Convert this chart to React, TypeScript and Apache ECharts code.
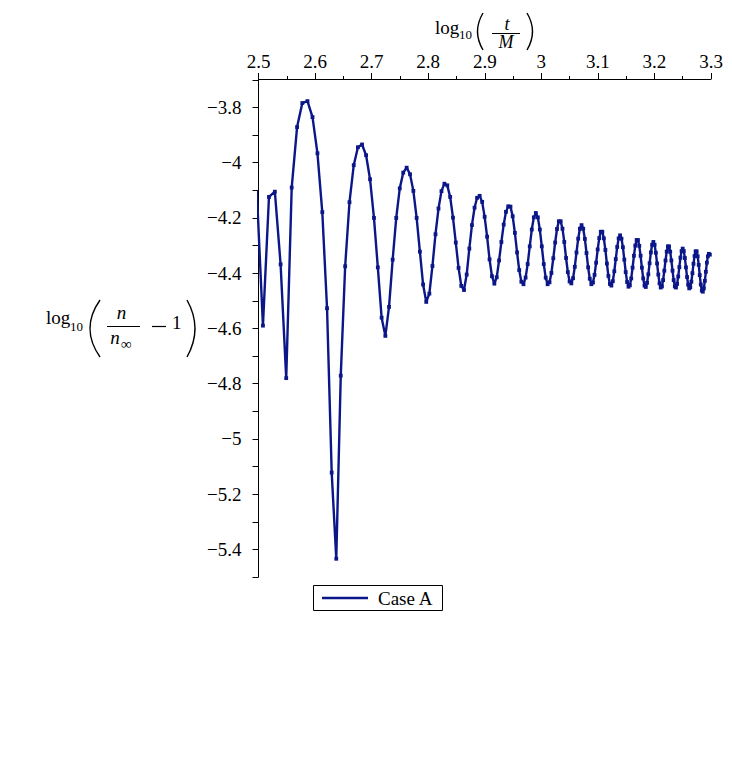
import React, { useEffect, useRef } from "react";
import * as echarts from "echarts";

// time samples t/M (plotted as log10(t/M))
const tValues = [
  314, 322, 330, 338, 346, 354, 362, 370, 378, 386,
  394, 402, 410, 418, 426, 434, 442, 450, 458, 466,
  474, 482, 490, 498, 506, 514, 522, 530, 538, 546,
  554, 562, 570, 578, 586, 594, 602, 610, 618, 626,
  634, 642, 650, 658, 666, 674, 682, 690, 698, 706,
  714, 722, 730, 738, 746, 754, 762, 770, 778, 786,
  794, 802, 810, 818, 826, 834, 842, 850, 858, 866,
  874, 882, 890, 898, 906, 914, 922, 930, 938, 946,
  954, 962, 970, 978, 986, 994, 1002, 1010, 1018, 1026,
  1034, 1042, 1050, 1058, 1066, 1074, 1082, 1090, 1098, 1106,
  1114, 1122, 1130, 1138, 1146, 1154, 1162, 1170, 1178, 1186,
  1194, 1202, 1210, 1218, 1226, 1234, 1242, 1250, 1258, 1266,
  1274, 1282, 1290, 1298, 1306, 1314, 1322, 1330, 1338, 1346,
  1354, 1362, 1370, 1378, 1386, 1394, 1402, 1410, 1418, 1426,
  1434, 1442, 1450, 1458, 1466, 1474, 1482, 1490, 1498, 1506,
  1514, 1522, 1530, 1538, 1546, 1554, 1562, 1570, 1578, 1586,
  1594, 1602, 1610, 1618, 1626, 1634, 1642, 1650, 1658, 1666,
  1674, 1682, 1690, 1698, 1706, 1714, 1722, 1730, 1738, 1746,
  1754, 1762, 1770, 1778, 1786, 1794, 1802, 1810, 1818, 1826,
  1834, 1842, 1850, 1858, 1866, 1874, 1882, 1890, 1898, 1906,
  1914, 1922, 1930, 1938, 1946, 1954, 1962, 1970, 1978, 1986,
];

// log10(n/n_inf - 1), Case A
const caseA = [
  -4.1, -4.59, -4.124, -4.105, -4.368, -4.78, -4.09, -3.871, -3.784, -3.777,
  -3.835, -3.966, -4.179, -4.527, -5.122, -5.434, -4.771, -4.375, -4.143, -4.009,
  -3.944, -3.934, -3.973, -4.06, -4.2, -4.379, -4.561, -4.627, -4.522, -4.351,
  -4.2, -4.093, -4.036, -4.018, -4.042, -4.102, -4.2, -4.322, -4.441, -4.504,
  -4.474, -4.374, -4.259, -4.166, -4.103, -4.076, -4.082, -4.124, -4.199, -4.289,
  -4.381, -4.446, -4.461, -4.405, -4.311, -4.226, -4.163, -4.127, -4.12, -4.142,
  -4.196, -4.268, -4.35, -4.411, -4.438, -4.415, -4.354, -4.287, -4.224, -4.178,
  -4.158, -4.159, -4.194, -4.254, -4.325, -4.389, -4.431, -4.44, -4.416, -4.367,
  -4.303, -4.242, -4.198, -4.182, -4.198, -4.242, -4.303, -4.367, -4.416, -4.44,
  -4.433, -4.399, -4.346, -4.289, -4.24, -4.212, -4.212, -4.239, -4.287, -4.345,
  -4.396, -4.43, -4.437, -4.418, -4.377, -4.325, -4.275, -4.239, -4.226, -4.239,
  -4.276, -4.327, -4.379, -4.42, -4.44, -4.434, -4.406, -4.362, -4.314, -4.273,
  -4.25, -4.25, -4.274, -4.316, -4.365, -4.41, -4.439, -4.445, -4.429, -4.393,
  -4.349, -4.305, -4.274, -4.263, -4.275, -4.306, -4.351, -4.396, -4.432, -4.449,
  -4.444, -4.419, -4.38, -4.337, -4.3, -4.28, -4.28, -4.301, -4.337, -4.38,
  -4.419, -4.445, -4.45, -4.435, -4.404, -4.364, -4.325, -4.297, -4.287, -4.297,
  -4.326, -4.365, -4.405, -4.437, -4.452, -4.448, -4.425, -4.391, -4.354, -4.322,
  -4.303, -4.303, -4.322, -4.354, -4.391, -4.425, -4.448, -4.452, -4.439, -4.412,
  -4.378, -4.344, -4.32, -4.311, -4.32, -4.345, -4.379, -4.414, -4.442, -4.455,
  -4.451, -4.431, -4.4, -4.366, -4.338, -4.321, -4.321, -4.339, -4.37, -4.407,
  -4.441, -4.463, -4.467, -4.455, -4.428, -4.395, -4.362, -4.339, -4.33, -4.333,
];

const seriesName = "Case A";
const xRange = [2.5, 3.3];
const yRange = [-5.5, -3.697];

const SERIF = '"Liberation Serif", "Times New Roman", serif';
const NAVY = "#0b1788";

export default function App() {
  const ref = useRef<HTMLDivElement>(null);

  useEffect(() => {
    if (!ref.current) return;
    const chart = echarts.init(ref.current, null, { renderer: "svg" });
    const data = tValues.map((t, i) => [Math.log10(t), caseA[i]]);

    const txt = (text: string, x: number, y: number, size: number, opts: any = {}) => ({
      type: "text",
      x,
      y,
      silent: true,
      style: {
        text,
        font: `${opts.italic ? "italic " : ""}${size}px ${SERIF}`,
        fill: "#000",
        align: opts.align || "left",
        verticalAlign: "middle",
        lineHeight: opts.lineHeight || size + 2,
      },
    });
    const paren = (x1: number, y1: number, y2: number, cx: number) => ({
      type: "bezierCurve",
      silent: true,
      shape: { x1, y1, x2: x1, y2, cpx1: cx, cpy1: (y1 + y2) / 2 },
      style: { stroke: "#000", lineWidth: 1.4, fill: "none" },
    });
    const hline = (x1: number, x2: number, y: number, w = 1) => ({
      type: "line",
      silent: true,
      shape: { x1, y1: y, x2, y2: y },
      style: { stroke: "#000", lineWidth: w },
    });

    chart.setOption({
      animation: false,
      backgroundColor: "#fff",
      grid: { left: 258.5, right: 21, top: 79, bottom: 191, containLabel: false },
      xAxis: {
        type: "value",
        position: "top",
        min: xRange[0],
        max: xRange[1],
        interval: 0.1,
        axisLine: { show: true, onZero: false, lineStyle: { color: "#000", width: 1 } },
        axisTick: { show: true, inside: false, length: 6, lineStyle: { color: "#000" } },
        minorTick: { show: true, splitNumber: 2, length: 3, lineStyle: { color: "#000" } },
        splitLine: { show: false },
        axisLabel: {
          margin: 8,
          color: "#000",
          fontFamily: SERIF,
          fontSize: 19,
          formatter: (v: number) => String(Math.round(v * 10) / 10),
        },
      },
      yAxis: {
        type: "value",
        position: "left",
        min: yRange[0],
        max: yRange[1],
        interval: 0.1,
        axisLine: { show: true, onZero: false, lineStyle: { color: "#000", width: 1 } },
        axisTick: { show: true, inside: false, length: 6, lineStyle: { color: "#000" } },
        splitLine: { show: false },
        axisLabel: {
          margin: 17,
          color: "#000",
          fontFamily: SERIF,
          fontSize: 19,
          showMaxLabel: false,
          formatter: (v: number) => {
            const k = Math.round(v * 10);
            if (k % 2 !== 0) return "";
            const r = Math.abs(k) / 10;
            return (k < 0 ? "\u2212" : "") + String(r);
          },
        },
      },
      series: [
        {
          name: seriesName,
          type: "line",
          data,
          clip: true,
          symbol: "rect",
          symbolSize: 3.8,
          showAllSymbol: true,
          itemStyle: { color: NAVY },
          lineStyle: { color: NAVY, width: 2.4 },
        },
      ],
      graphic: [
        // top axis title: log10(t/M)
        txt("log", 435, 27, 19),
        txt("10", 459, 34.5, 13),
        paren(483, 13, 50, 472),
        txt("t", 507, 23.5, 18, { italic: true, align: "center", lineHeight: 14 }),
        hline(492, 520, 33.5),
        txt("M", 506, 42, 18, { italic: true, align: "center", lineHeight: 14 }),
        paren(527, 13, 50, 538),
        // left axis title: log10(n/n_inf - 1)
        txt("log", 46, 317.5, 19),
        txt("10", 70, 326, 13),
        paren(100, 300, 357, 80),
        txt("n", 121.5, 312.5, 19, { italic: true, align: "center", lineHeight: 16 }),
        hline(107, 140, 326.5),
        txt("n", 115, 337.5, 19, { italic: true, align: "center", lineHeight: 16 }),
        txt("\u221e", 121, 343.5, 15, { lineHeight: 12 }),
        hline(152, 166, 326.5, 1.2),
        txt("1", 172, 322, 19),
        paren(187, 300, 357, 203),
        // legend box
        {
          type: "rect",
          silent: true,
          shape: { x: 313.5, y: 585.5, width: 129, height: 25 },
          style: { stroke: "#000", lineWidth: 1, fill: "#fff" },
        },
        {
          type: "line",
          silent: true,
          shape: { x1: 322, y1: 598, x2: 368, y2: 598 },
          style: { stroke: NAVY, lineWidth: 2.4 },
        },
        txt(seriesName, 378, 598.5, 19),
      ],
    });

    return () => chart.dispose();
  }, []);

  return (
    <div
      ref={ref}
      style={{ position: "fixed", left: 0, top: 0, width: 732, height: 768, background: "#fff" }}
    />
  );
}
